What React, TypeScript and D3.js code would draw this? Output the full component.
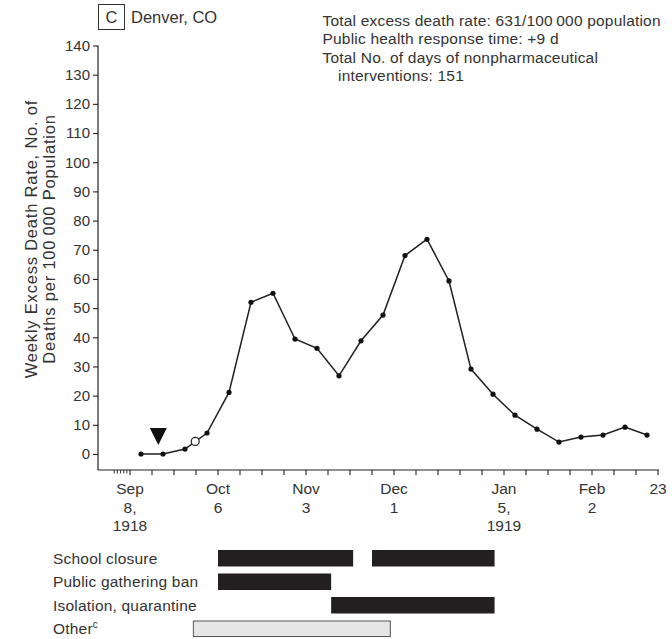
import React, { useEffect, useRef } from 'react';
import * as d3 from 'd3';

// weekly excess death rate, Denver, CO (per 100 000), week starting dates
const weekStarts = [
  '1918-09-08', '1918-09-15', '1918-09-22', '1918-09-29', '1918-10-06', '1918-10-13',
  '1918-10-20', '1918-10-27', '1918-11-03', '1918-11-10', '1918-11-17', '1918-11-24',
  '1918-12-01', '1918-12-08', '1918-12-15', '1918-12-22', '1918-12-29', '1919-01-05',
  '1919-01-12', '1919-01-19', '1919-01-26', '1919-02-02', '1919-02-09', '1919-02-16',
];
const weeklyRates = [
  0, 0, 1.7, 7.2, 21.1, 52.0, 55.1, 39.4, 36.2, 26.8, 38.8, 47.6,
  68.0, 73.6, 59.3, 29.1, 20.5, 13.3, 8.5, 4.1, 5.8, 6.5, 9.2, 6.5,
];

// markers
const triangleDate = '1918-09-17';
const triangleValue = 3.1;
const firstNpiDate = '1918-09-28T18:00';
const firstNpiValue = 4.3;

// x tick labels
const xLabelDates = ['1918-09-08', '1918-10-06', '1918-11-03', '1918-12-01', '1919-01-05', '1919-02-02', '1919-02-23'];
const xLabelLines = [['Sep', '8,', '1918'], ['Oct', '6'], ['Nov', '3'], ['Dec', '1'], ['Jan', '5,', '1919'], ['Feb', '2'], ['23']];

const yTicks = [0, 10, 20, 30, 40, 50, 60, 70, 80, 90, 100, 110, 120, 130, 140];

// nonpharmaceutical interventions
const npiRows = ['School closure', 'Public gathering ban', 'Isolation, quarantine', 'Other'];
const npiPeriods = [
  { row: 'School closure', start: '1918-10-06', end: '1918-11-18' },
  { row: 'School closure', start: '1918-11-24', end: '1919-01-02' },
  { row: 'Public gathering ban', start: '1918-10-06', end: '1918-11-11' },
  { row: 'Isolation, quarantine', start: '1918-11-11', end: '1919-01-02' },
  { row: 'Other', start: '1918-09-28', end: '1918-11-30' },
];

const summaryLines = [
  'Total excess death rate: 631/100\u2009000 population',
  'Public health response time: +9 d',
  'Total No. of days of nonpharmaceutical',
  'interventions: 151',
];
const summaryIndent = [0, 0, 0, 15.5];

const FONT = '"Liberation Sans", Arial, Helvetica, sans-serif';
const INK = '#231f20';
const TXT = '#333';

export default function App() {
  const ref = useRef<SVGSVGElement>(null);

  useEffect(() => {
    const svg = d3.select(ref.current);
    svg.selectAll('*').remove();
    const parse = (s: string) => new Date(s.length > 10 ? s + 'Z' : s + 'T00:00Z');

    const x = d3.scaleUtc().domain([parse('1918-09-08'), parse('1919-02-23')]).range([130, 658]);
    const y = d3.scaleLinear().domain([0, 140]).range([454, 45.5]);
    const axisX = 98;
    const axisY = 470;

    const g = svg.append('g').style('font-family', FONT).attr('fill', INK);

    // y axis
    g.append('line').attr('x1', axisX).attr('x2', axisX).attr('y1', y(140)).attr('y2', axisY)
      .attr('stroke', INK).attr('stroke-width', 1.2);
    const ya = g.append('g').attr('transform', `translate(${axisX},0)`)
      .call(d3.axisLeft(y).tickValues(yTicks).tickSize(5).tickSizeOuter(0).tickPadding(3));
    ya.select('.domain').remove();
    ya.selectAll('line').attr('stroke', INK).attr('stroke-width', 1.1);
    ya.selectAll('text').attr('fill', TXT).style('font-size', '15px').style('font-family', FONT);

    // y label
    const yl = g.append('text').attr('transform', 'translate(0,239) rotate(-90)')
      .attr('text-anchor', 'middle').style('font-size', '16.5px').style('letter-spacing', '0.8px').attr('fill', TXT);
    yl.append('tspan').attr('x', 0).attr('y', 36.5).text('Weekly Excess Death Rate, No. of');
    yl.append('tspan').attr('x', 0).attr('y', 55).text('Deaths per 100\u2009000 Population');

    // x axis
    g.append('line').attr('x1', axisX).attr('x2', 659).attr('y1', axisY).attr('y2', axisY)
      .attr('stroke', INK).attr('stroke-width', 1.2);
    const weekTicks = d3.utcSunday.range(parse('1918-09-08'), parse('1919-02-24'));
    g.selectAll('.wtick').data(weekTicks).enter().append('line')
      .attr('x1', d => x(d)).attr('x2', d => x(d)).attr('y1', axisY).attr('y2', axisY + 5)
      .attr('stroke', INK).attr('stroke-width', 1.1);
    const dayTicks = d3.utcDay.range(parse('1918-09-03'), parse('1918-09-08'));
    g.selectAll('.dtick').data(dayTicks).enter().append('line')
      .attr('x1', d => x(d)).attr('x2', d => x(d)).attr('y1', axisY).attr('y2', axisY + 3.5)
      .attr('stroke', INK).attr('stroke-width', 0.9);
    xLabelDates.forEach((ds, i) => {
      const t = g.append('text').attr('text-anchor', 'middle').style('font-size', '15.5px').attr('fill', TXT);
      xLabelLines[i].forEach((ln, j) => {
        t.append('tspan').attr('x', x(parse(ds))).attr('y', 494 + j * 18.5).text(ln);
      });
    });

    // data line
    const pts = weekStarts.map((w, i) => ({ date: d3.utcHour.offset(parse(w), 84), v: weeklyRates[i] }));
    const line = d3.line<{ date: Date; v: number }>().x(d => x(d.date)).y(d => y(d.v));
    g.append('path').datum(pts).attr('d', line).attr('fill', 'none').attr('stroke', INK).attr('stroke-width', 1.5);
    g.selectAll('.pt').data(pts).enter().append('circle')
      .attr('cx', d => x(d.date)).attr('cy', d => y(d.v)).attr('r', 2.6).attr('fill', '#111');

    // first intervention (open circle)
    g.append('circle').attr('cx', x(parse(firstNpiDate))).attr('cy', y(firstNpiValue)).attr('r', 4)
      .attr('fill', '#fff').attr('stroke', INK).attr('stroke-width', 1.2);

    // triangle marker
    const tx = x(parse(triangleDate));
    const ty = y(triangleValue);
    g.append('path').attr('d', `M${tx - 8.5},${ty - 17}L${tx + 8.5},${ty - 17}L${tx},${ty}Z`).attr('fill', '#111');

    // title
    g.append('rect').attr('x', 98.5).attr('y', 4.5).attr('width', 26).attr('height', 25)
      .attr('fill', 'none').attr('stroke', '#333').attr('stroke-width', 1);
    g.append('text').attr('x', 111.5).attr('y', 23).attr('text-anchor', 'middle').style('font-size', '16.5px').attr('fill', TXT).text('C');
    g.append('text').attr('x', 131).attr('y', 23).style('font-size', '16.5px').attr('fill', TXT).text('Denver, CO');

    // summary
    summaryLines.forEach((s, i) => {
      g.append('text').attr('x', 322.5 + summaryIndent[i]).attr('y', 26 + i * 18.4).style('font-size', '15.5px')
        .style('letter-spacing', '0.2px').attr('fill', TXT).text(s);
    });

    // interventions
    const band = d3.scaleBand().domain(npiRows).range([550, 550 + 4 * 23.5 - 7]).paddingInner(0.298).paddingOuter(0);
    npiRows.forEach(r => {
      const t = g.append('text').attr('x', 53).attr('y', (band(r) as number) + band.bandwidth() / 2 + 5.5)
        .style('font-size', '15.5px').style('letter-spacing', '0.2px').attr('fill', TXT).text(r);
      if (r === 'Other') t.append('tspan').attr('dy', -6).style('font-size', '10px').text('c');
    });
    g.selectAll('.npi').data(npiPeriods).enter().append('rect')
      .attr('x', d => x(parse(d.start)) + (d.row === 'Other' ? 0.5 : 0))
      .attr('y', d => (band(d.row) as number) + (d.row === 'Other' ? 0.5 : 0))
      .attr('width', d => x(parse(d.end)) - x(parse(d.start)) - (d.row === 'Other' ? 1 : 0))
      .attr('height', d => band.bandwidth() - (d.row === 'Other' ? 1 : 0))
      .attr('fill', d => (d.row === 'Other' ? '#e6e6e6' : INK))
      .attr('stroke', d => (d.row === 'Other' ? '#555' : 'none'))
      .attr('stroke-width', 1);
  }, []);

  return (
    <svg ref={ref} width={672} height={639} style={{ position: 'absolute', left: 0, top: 0, background: '#fff' }} />
  );
}
